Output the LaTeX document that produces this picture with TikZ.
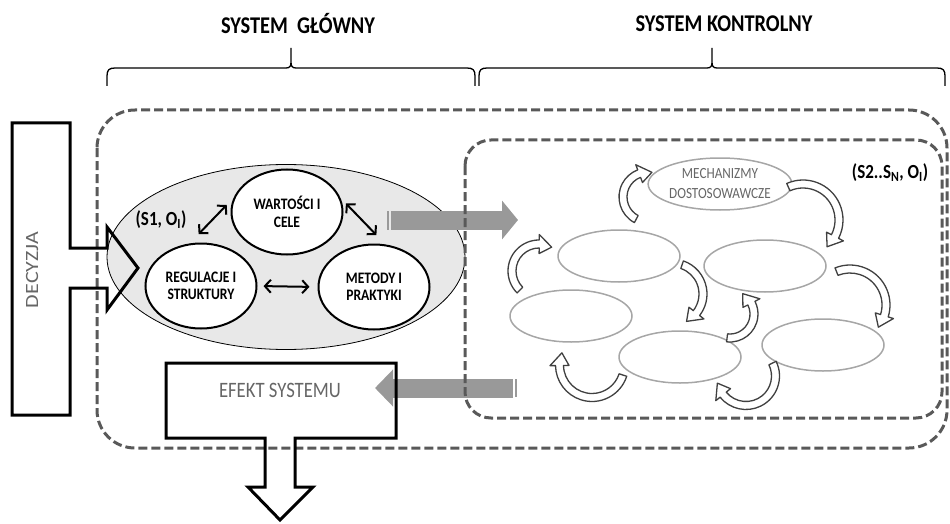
\documentclass[tikz,border=0pt]{standalone}
\usepackage{fontspec}
\setmainfont{Carlito}[FakeStretch=0.85]
\newfontfamily\widefont{Carlito}
\usetikzlibrary{positioning}
\usetikzlibrary{arrows.meta,shapes}
\usetikzlibrary{calc}
\tikzstyle{sysframe}=[draw=black!65, line width=3pt, dash pattern=on 9pt off 4pt]
\tikzstyle{mainsys}=[ellipse, draw=black, fill=black!9, line width=0.8pt, minimum width=358pt, minimum height=185pt]
\tikzstyle{partell}=[ellipse, draw=black, fill=white, line width=2pt, minimum width=111pt, minimum height=85pt, inner sep=0pt, align=center, font=\fontsize{16}{17.5}\selectfont\bfseries]
\tikzstyle{subell}=[ellipse, draw=black!35, line width=1.5pt, minimum width=122pt, minimum height=52pt, inner sep=0pt, align=center, text=black!60, font=\fontsize{15.5}{20}\selectfont]
\tikzstyle{linkarr}=[draw, line width=2pt, {Straight Barb[length=6pt,width=13pt]}-{Straight Barb[length=6pt,width=13pt]}]
\tikzstyle{flowarr}=[draw=black!40, line width=19pt, -{Triangle[length=16pt,width=38pt]}]
\tikzstyle{blockout}=[draw=black, line width=3pt, line join=miter]
\tikzstyle{bracestyle}=[draw=black, line width=1.3pt]
\tikzstyle{titletext}=[font=\fontsize{24}{24}\selectfont\bfseries]
\tikzstyle{tagtext}=[font=\fontsize{20}{20}\selectfont\bfseries]
\tikzstyle{turnarr}=[draw=black!75, fill=white, line width=1.3pt, line join=round]

% hollow bent arrow: centre x, centre y, radius, start angle, tip angle
\newcommand{\bentarrow}[5]{%
  \pgfmathsetmacro{\headang}{#5-(2*(#5>#4)-1)*13/#3*57.3}
  \path[turnarr, shift={(#1,#2)}] (#4:#3+4) arc[start angle=#4, end angle=\headang, radius=#3+4]
    -- (\headang:#3+9.5) -- (#5:#3) -- (\headang:#3-9.5) -- (\headang:#3-4)
    arc[start angle=\headang, end angle=#4, radius=#3-4] -- cycle;
}
% brace over a system: left x, tip x, right x
\newcommand{\topbrace}[3]{%
  \path[bracestyle] (#1,86) -- (#1,76) .. controls (#1,70) and (#1+2,68) .. (#1+8,68)
    -- (#2-5,68) .. controls (#2-1,68) and (#2,66) .. (#2,62) -- (#2,48)
    -- (#2,62) .. controls (#2,66) and (#2+1,68) .. (#2+5,68)
    -- (#3-8,68) .. controls (#3-2,68) and (#3,70) .. (#3,76) -- (#3,86);
}

\begin{document}
\begin{tikzpicture}[x=1pt, y=-1pt]
    \useasboundingbox (0,0) rectangle (950,524);

    % titles and braces
    \node[titletext] (tmain) at (298,24) {SYSTEM\ \ GŁÓWNY};
    \node[titletext] (tctrl) at (724,24) {SYSTEM KONTROLNY};
    \topbrace{107}{291}{475}
    \topbrace{479}{712}{945}

    % outer frame
    \draw[sysframe, rounded corners=38pt] (97,110) rectangle (947,448);

    % main system
    \node[mainsys] (sysmain) at (286,257) {};
    \foreach \pos/\name/\label in {{(287,212)/wart/{WARTOŚCI I\\CELE}}, {(201,286)/regul/{REGULACJE I\\STRUKTURY}}, {(374,287)/metody/{METODY I\\PRAKTYKI}}}
        \node[partell] (\name) at \pos {\label};

    \draw[linkarr, shorten <=13pt, shorten >=10pt] (regul.105) -- (wart.165);
    \draw[linkarr, shorten <=8pt, shorten >=13pt] (wart.15) -- (metody.75);
    \draw[linkarr, shorten <=6pt, shorten >=8pt] (regul.east) -- (metody.west);
    \node[tagtext] (s1tag) at (161,220) {(S1, O\textsubscript{I})};

    % flows between the systems
    \coordinate (outmain) at (391,220);
    \coordinate (inctrl) at (518,220);
    \coordinate (outctrl) at (513,388);
    \coordinate (ineffect) at (375,388);
    \draw[flowarr] (outmain) -- (inctrl);
    \draw[flowarr, -{Triangle[length=18pt,width=36pt]}] (outctrl) -- (ineffect);
    \fill[black!40] (387,211) rectangle (389.3,230);
    \fill[black!40] (514.7,379) rectangle (517,397);

    % control system
    \draw[sysframe, rounded corners=26pt] (465,140) rectangle (942,418);
    \node[tagtext] (s2tag) at (890,173) {(S2..S\textsubscript{N}, O\textsubscript{I})};
    \node[subell] (mech) at (720,184) {MECHANIZMY\\DOSTOSOWAWCZE};
    \foreach \pos/\name in {{(619,256)/sub1}, {(765,266)/sub2}, {(571,316)/sub3}, {(680,357)/sub4}, {(823,345)/sub5}}
        \node[subell] (\name) at \pos {};

    \foreach \cx/\cy/\r/\a/\b in {648/197/25/118/279, 803/220/36/246/408, 539/271/27/135/298, 672/294/31/289/422, 730/314/24/97/-58, 850/305/36/248/398, 746/376/29.5/334/526, 592/365/32.5/18/202}
        {\bentarrow{\cx}{\cy}{\r}{\a}{\b}}

    % decision and effect
    \path[blockout] (12,123) -- (70,123) -- (70,248) -- (107,248) -- (107,227) -- (138,268) -- (107,310) -- (107,288) -- (70,288) -- (70,415) -- (12,415) -- cycle;
    \node[rotate=90, text=black!60, font=\widefont\fontsize{22}{22}\selectfont] (decyzja) at (32,270) {\scalebox{1}[0.85]{DECYZJA}};

    \path[blockout] (166,363) -- (396,363) -- (396,438) -- (295,438) -- (295,487) -- (313,487) -- (280,520) -- (248,487) -- (265,487) -- (265,438) -- (166,438) -- cycle;
    \node[text=black!60, font=\fontsize{22}{22}\selectfont] (efekt) at (280,390) {EFEKT SYSTEMU};
\end{tikzpicture}
\end{document}
